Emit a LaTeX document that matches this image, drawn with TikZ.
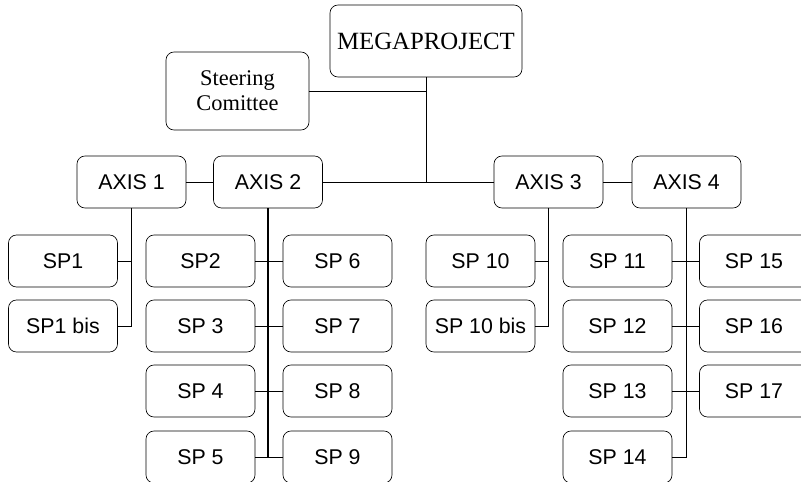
\documentclass[tikz,border=0pt]{standalone}
\usepackage{fontspec}
\setmainfont{Liberation Serif}
\setsansfont{Liberation Sans}
\usepackage{tikz}
\usetikzlibrary{positioning}

\begin{document}
\begin{tikzpicture}[
    x=0.75pt, y=-0.75pt,
    box/.style={draw=black, line width=.5pt, rounded corners=6pt, inner sep=0pt,
      align=center},
    spbox/.style={box, minimum width=81.75pt, minimum height=39pt,
      font=\sffamily\fontsize{16}{19}\selectfont},
    topbox/.style={box, font=\rmfamily},
    link/.style={line width=.5pt},
    spine/.style={line width=1pt}
  ]
    \useasboundingbox (0,0) rectangle (801,482);

    % top level
    \node[topbox, minimum width=144pt, minimum height=54pt,
      font=\rmfamily\fontsize{18.6}{22}\selectfont] (mega) at (426,41) {MEGAPROJECT};
    \node[topbox, minimum width=107.25pt, minimum height=58.5pt,
      font=\rmfamily\fontsize{16.8}{18.75}\selectfont] (steer) at (237.5,91)
      {Steering\\Comittee};

    % axes
    \node[spbox] (ax1) at (131.5,182) {AXIS 1};
    \node[spbox] (ax2) at (268,182) {AXIS 2};
    \node[spbox] (ax3) at (548.5,182) {AXIS 3};
    \node[spbox] (ax4) at (686.5,182) {AXIS 4};

    % sub-projects
    \node[spbox] (sp1) at (63,261) {SP1};
    \node[spbox] (sp1b) at (63,326) {SP1 bis};
    \node[spbox] (sp2) at (200.5,261) {SP2};
    \node[spbox] (sp3) at (200.5,326) {SP 3};
    \node[spbox] (sp4) at (200.5,391) {SP 4};
    \node[spbox] (sp5) at (200.5,457) {SP 5};
    \node[spbox] (sp6) at (337.5,261) {SP 6};
    \node[spbox] (sp7) at (337.5,326) {SP 7};
    \node[spbox] (sp8) at (337.5,391) {SP 8};
    \node[spbox] (sp9) at (337.5,457) {SP 9};
    \node[spbox] (sp10) at (480.5,261) {SP 10};
    \node[spbox] (sp10b) at (480.5,326) {SP 10 bis};
    \node[spbox] (sp11) at (617.5,261) {SP 11};
    \node[spbox] (sp12) at (617.5,326) {SP 12};
    \node[spbox] (sp13) at (617.5,391) {SP 13};
    \node[spbox] (sp14) at (617.5,457) {SP 14};
    \node[spbox] (sp15) at (754,261) {SP 15};
    \node[spbox] (sp16) at (754,326) {SP 16};
    \node[spbox] (sp17) at (754,391) {SP 17};

    % top links
    \draw[link] (mega.south) -- (mega.south |- ax2.east);
    \draw[link] (steer.east) -- (steer.east -| mega.south);
    \draw[link] (ax2.east) -- (ax3.west);
    \draw[link] (ax1.east) -- (ax2.west);
    \draw[link] (ax3.east) -- (ax4.west);

    % axis 1 and axis 3
    \draw[link] (ax1.south) |- (sp1b.east);
    \draw[link] (sp1.east) -- (sp1.east -| ax1.south);
    \draw[link] (ax3.south) |- (sp10b.east);
    \draw[link] (sp10.east) -- (sp10.east -| ax3.south);

    % axis 2
    \draw[spine] (ax2.south) -- (ax2.south |- sp5.east);
    \foreach \a/\b in {sp2/sp6, sp3/sp7, sp4/sp8, sp5/sp9}
      \draw[link] (\a.east) -- (\b.west);

    % axis 4
    \draw[spine] (ax4.south) -- (ax4.south |- sp14.east);
    \foreach \a/\b in {sp11/sp15, sp12/sp16, sp13/sp17}
      \draw[link] (\a.east) -- (\b.west);
    \draw[link] (sp14.east) -- (sp14.east -| ax4.south);
  \end{tikzpicture}
\end{document}
